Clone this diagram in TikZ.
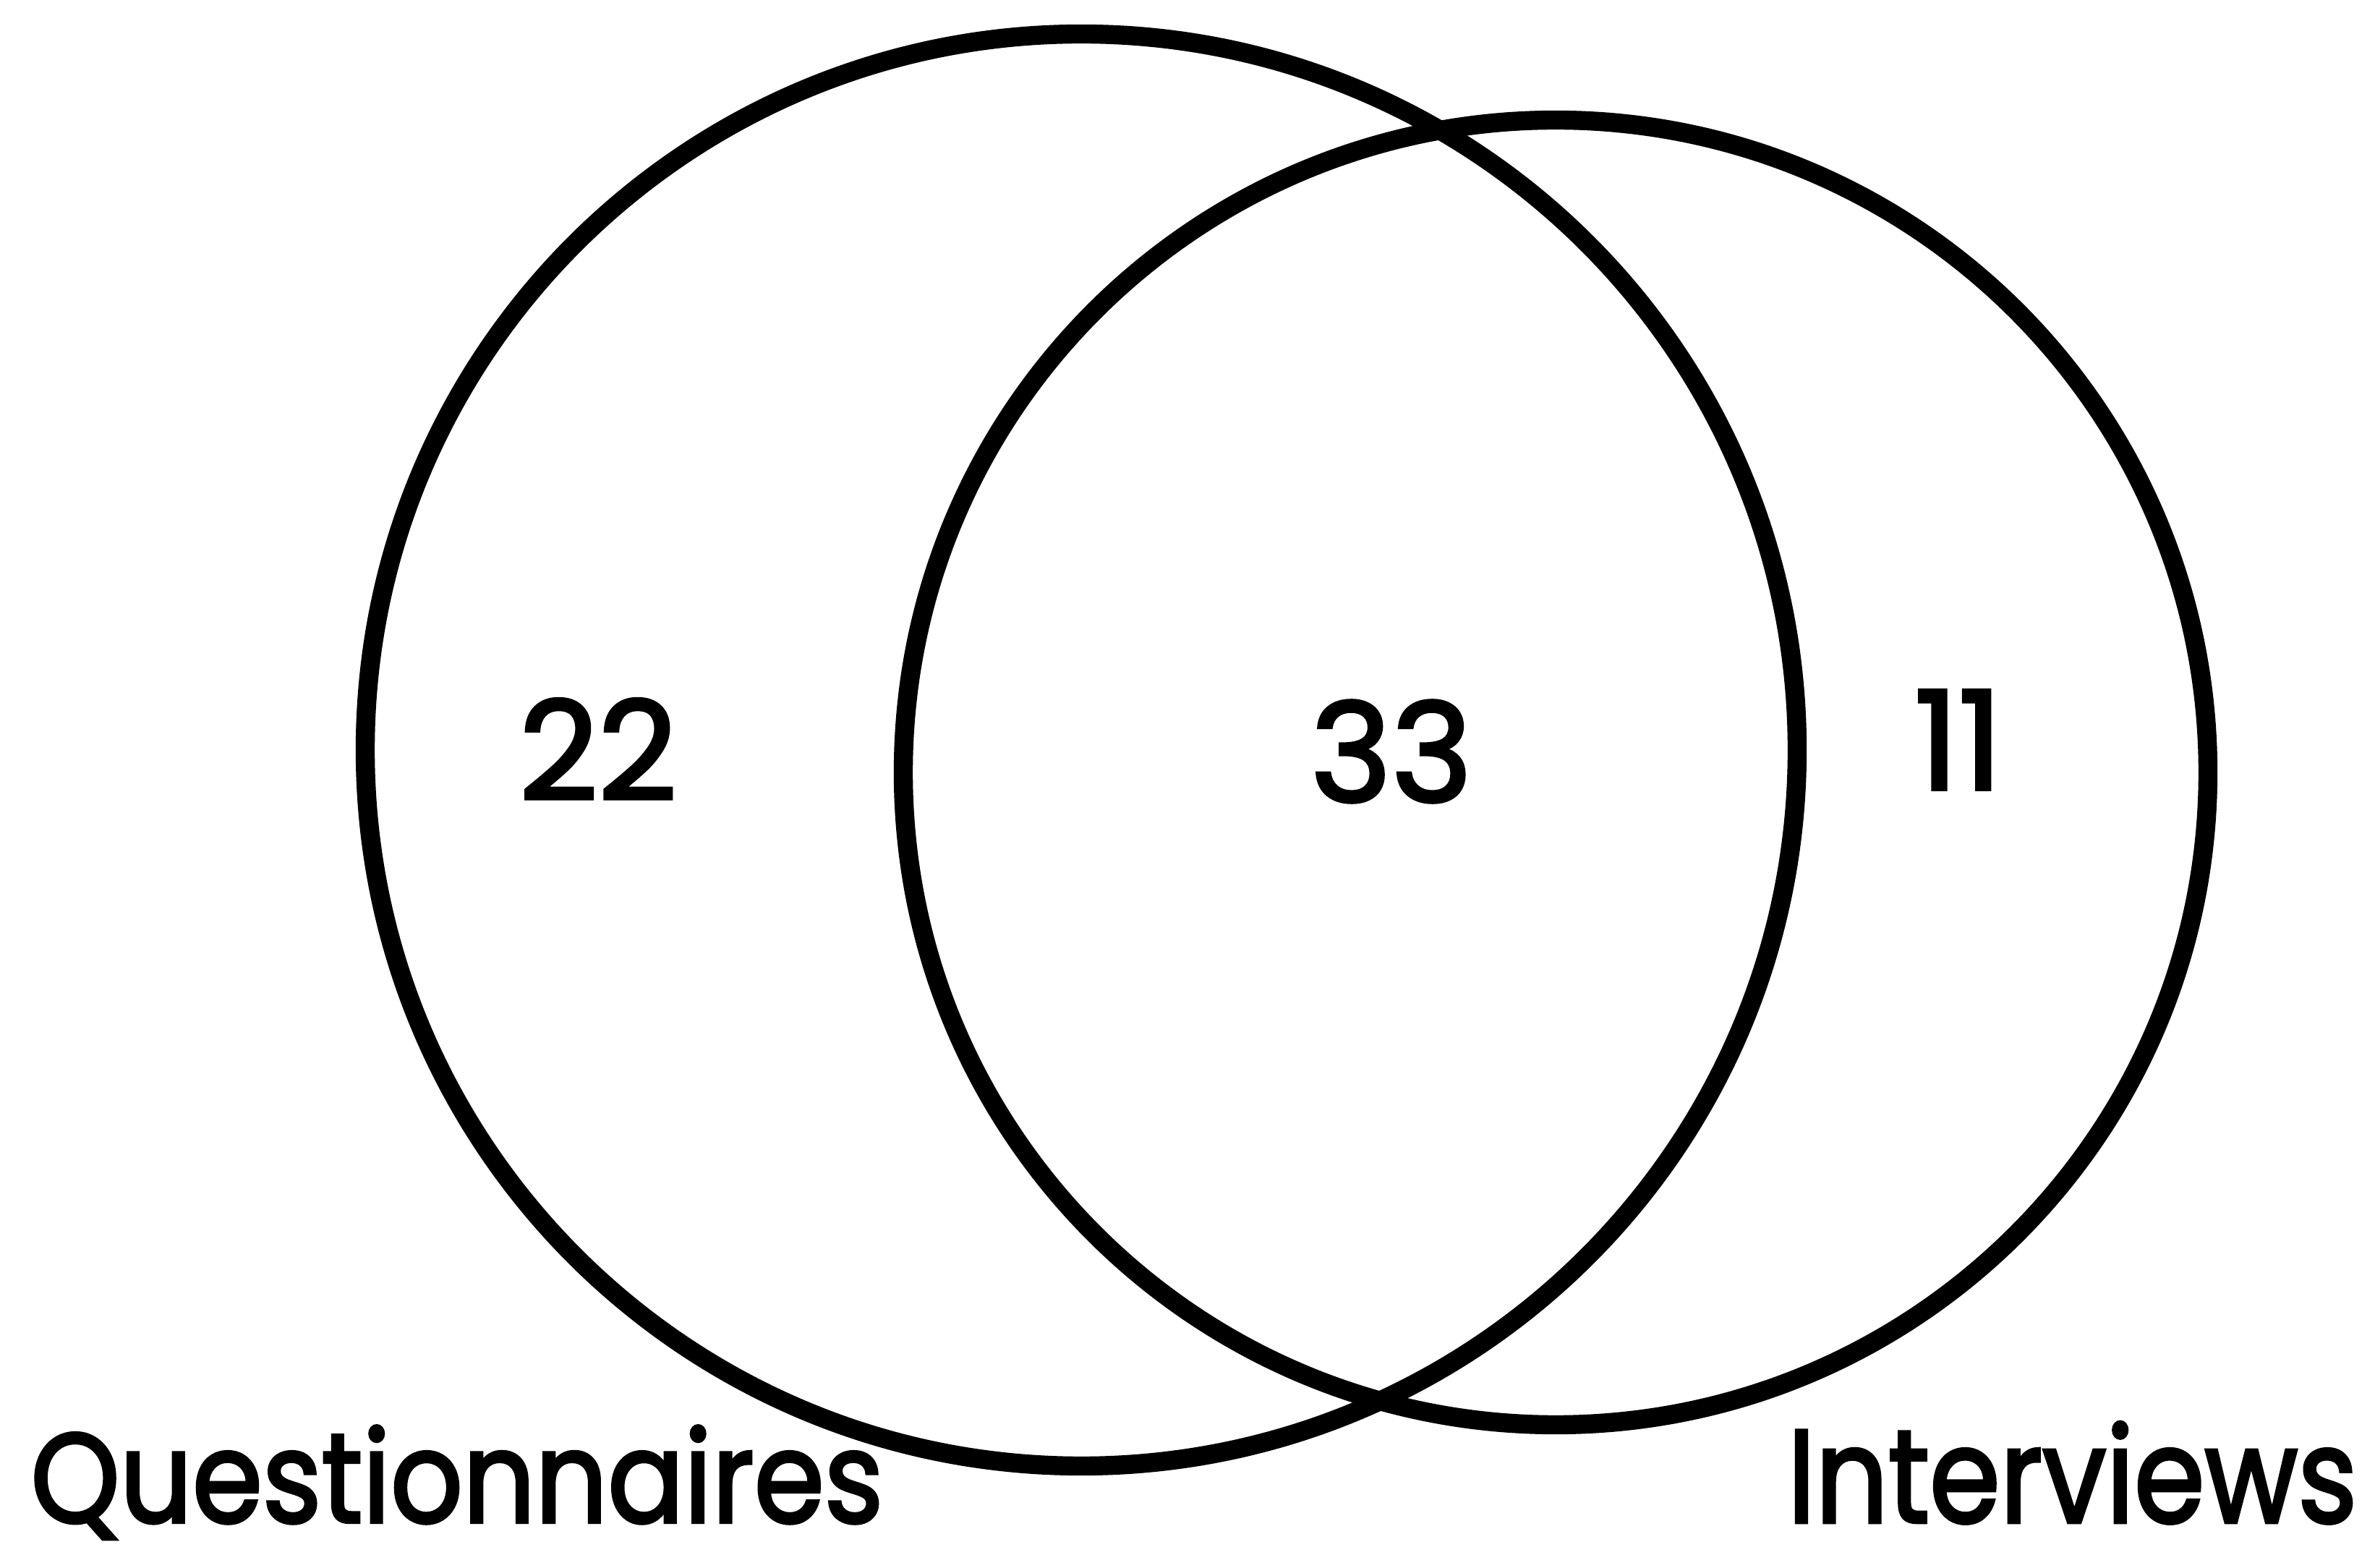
\documentclass[tikz,border=0pt]{standalone}
\usepackage{fontspec}
\setmainfont{Poppins}
\newfontfamily\vennfont[FakeBold=2.5]{Poppins}
\usetikzlibrary{positioning}

\begin{document}
\begin{tikzpicture}[
  setcircle/.style={draw, circle, line width=7.5pt, inner sep=0pt},
  countlabel/.style={font=\vennfont\fontsize{54}{60}\selectfont},
  setlabel/.style={font=\vennfont\fontsize{50}{56}\selectfont, inner sep=0pt}
]
\useasboundingbox (0,0) rectangle (32.84,21.67);
\node[setcircle, minimum size=19.8cm] (quest) at (14.95,11.30) {};
\node[setcircle, minimum size=18.04cm] (inter) at (21.51,10.99) {};
\node[countlabel] (onlyq) at (8.27,11.31) {22};
\node[countlabel] (both) at (19.24,11.28) {33};
\node[countlabel] (onlyi) at (27.08,11.44) {11};
\node[setlabel, anchor=base west, xscale=0.89] (qlabel) at (0.42,0.62) {Questionnaires};
\node[setlabel, anchor=base east, xscale=0.86, font=\vennfont\fontsize{52}{56}\selectfont] (ilabel) at (32.60,0.62) {Interviews};
\end{tikzpicture}
\end{document}
